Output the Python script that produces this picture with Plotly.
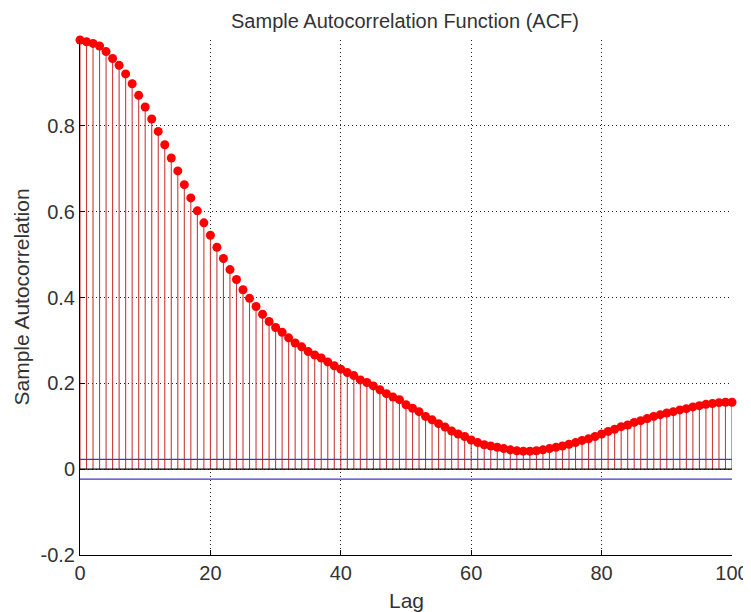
import plotly.graph_objects as go

lags = list(range(0, 101))
acf = [
    1.000, 0.996, 0.992, 0.986, 0.973, 0.957, 0.941, 0.921, 0.898, 0.871,
    0.844, 0.816, 0.787, 0.756, 0.725, 0.695, 0.663, 0.632, 0.602, 0.574,
    0.545, 0.517, 0.491, 0.465, 0.442, 0.418, 0.398, 0.379, 0.361, 0.344,
    0.330, 0.319, 0.306, 0.294, 0.285, 0.274, 0.266, 0.259, 0.250, 0.241,
    0.233, 0.225, 0.218, 0.208, 0.202, 0.194, 0.185, 0.176, 0.168, 0.162,
    0.150, 0.142, 0.134, 0.123, 0.115, 0.106, 0.098, 0.089, 0.082, 0.076,
    0.068, 0.062, 0.057, 0.054, 0.051, 0.048, 0.045, 0.043, 0.042, 0.042,
    0.043, 0.045, 0.048, 0.051, 0.054, 0.058, 0.062, 0.067, 0.071, 0.076,
    0.082, 0.088, 0.093, 0.099, 0.103, 0.109, 0.113, 0.118, 0.123, 0.127,
    0.131, 0.134, 0.138, 0.141, 0.145, 0.148, 0.151, 0.153, 0.155, 0.156,
    0.156,
]
conf_bound = 0.023
x_ticks = [0, 20, 40, 60, 80, 100]
y_ticks = [-0.2, 0, 0.2, 0.4, 0.6, 0.8]
y_tick_labels = ["-0.2", "0", "0.2", "0.4", "0.6", "0.8"]

FONT = "Liberation Sans, Arial, sans-serif"
TXT = "#333333"
FS_TITLE = 20
FS_TICK = 20
FS_LABEL = 21
# page has an 8px body margin, so the figure is sized to fit the 751x612 window
OFF = 8
W, H = 751 - OFF, 612 - OFF
ML, MR, MT, MB = 80 - OFF, 19, 40 - OFF, 57
PW, PH = W - ML - MR, H - MT - MB

fig = go.Figure()

# stems via error bars down to zero
fig.add_trace(go.Scatter(
    x=lags, y=acf, mode="markers",
    marker=dict(color="#ff0000", size=9, line=dict(width=0)),
    error_y=dict(type="data", symmetric=False, array=[0] * len(acf),
                 arrayminus=acf, width=0, thickness=1.1, color="#cc3a3a"),
    cliponaxis=False, showlegend=False, hoverinfo="x+y",
))

# baseline and confidence bounds
fig.add_trace(go.Scatter(x=[lags[0], lags[-1]], y=[0, 0], mode="lines",
                         line=dict(color="#000000", width=1.2),
                         showlegend=False, hoverinfo="skip"))
fig.add_trace(go.Scatter(x=[lags[0], lags[-1]], y=[conf_bound, conf_bound], mode="lines",
                         line=dict(color="#3838d0", width=1.2),
                         showlegend=False, hoverinfo="skip"))
fig.add_trace(go.Scatter(x=[lags[0], lags[-1]], y=[-conf_bound, -conf_bound], mode="lines",
                         line=dict(color="#3838d0", width=1.2),
                         showlegend=False, hoverinfo="skip"))

fig.update_layout(
    width=W, height=H,
    paper_bgcolor="white", plot_bgcolor="white",
    margin=dict(l=ML, r=MR, t=MT, b=MB, autoexpand=False),
    font=dict(family=FONT, size=FS_TICK, color=TXT),
    title=dict(text="Sample Autocorrelation Function (ACF)",
               x=(405 - OFF) / W, xanchor="center", y=1 - (21 - OFF) / H, yanchor="middle",
               yref="container", font=dict(family=FONT, size=FS_TITLE, color=TXT)),
    annotations=[
        dict(text="Lag", xref="paper", yref="paper", x=0.5,
             y=-(600 - 555) / PH,
             xanchor="center", yanchor="middle", showarrow=False,
             font=dict(family=FONT, size=FS_LABEL, color=TXT)),
        dict(text="Sample Autocorrelation", xref="paper", yref="paper",
             x=-(80 - 21) / PW, y=0.5, textangle=-90,
             xanchor="center", yanchor="middle", showarrow=False,
             font=dict(family=FONT, size=FS_LABEL, color=TXT)),
    ],
)
DOT = "1px,3px"
fig.update_xaxes(
    range=[0, 100], tickvals=x_ticks, ticktext=[str(v) for v in x_ticks],
    showgrid=True, gridcolor="#222222", griddash=DOT, gridwidth=1,
    showline=True, linecolor="#000000", linewidth=1, mirror=False,
    ticks="inside", ticklen=5, tickcolor="#000000", zeroline=False,
    automargin=False,
)
fig.update_yaxes(
    range=[-0.2, 1], tickvals=y_ticks, ticktext=y_tick_labels,
    showgrid=True, gridcolor="#222222", griddash=DOT, gridwidth=1,
    showline=True, linecolor="#000000", linewidth=1, mirror=False,
    ticks="inside", ticklen=5, tickcolor="#000000", zeroline=False,
    automargin=False,
)

fig.write_html("out.html")
